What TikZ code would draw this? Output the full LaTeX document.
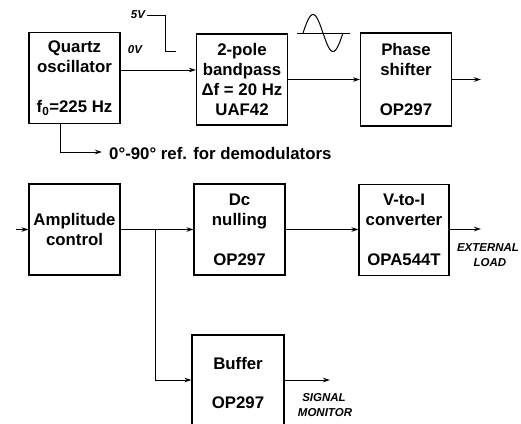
\documentclass[tikz,border=0pt]{standalone}
\usepackage{fontspec}
\setmainfont{Liberation Sans}
\usetikzlibrary{arrows.meta}
\tikzset{
  blk/.style={draw, line width=1.2pt, minimum width=91pt, minimum height=91pt, inner sep=0pt,
    align=center, font=\fontsize{16.8}{20}\selectfont\bfseries},
  wire/.style={line width=1pt},
  arr/.style={wire, -{Stealth[length=7pt,width=4.5pt]}},
  lbl/.style={font=\fontsize{16.8}{20}\selectfont\bfseries, inner sep=0pt},
  small/.style={font=\fontsize{11.5}{13}\selectfont\bfseries\itshape, inner sep=0pt}
}
\begin{document}
\begin{tikzpicture}[x=1pt,y=-1pt]
\useasboundingbox (0,0) rectangle (521,423);
\clip (0,0) rectangle (521,423);
\fill[white] (0,0) rectangle (521,423);
% blocks
\node[blk] (q) at (74.5,78) {Quartz\\oscillator\\[20pt]f\textsubscript{0}=225 Hz};
\node[blk] (bp) at (242,79.5) {2-pole\\bandpass\\Δf = 20 Hz\\UAF42};
\node[blk, minimum height=93pt] (ph) at (406,79.5) {Phase\\shifter\\[20pt]OP297};
\node[blk] (amp) at (74.5,229.5) {Amplitude\\control};
\node[blk] (dc) at (239.5,229.5) {Dc\\nulling\\[20pt]OP297};
\node[blk, minimum width=90pt] (vi) at (404,230) {V-to-I\\converter\\[20pt]OPA544T};
\node[blk, minimum width=92pt, minimum height=170pt] (buf) at (238,420) {};
\node[lbl] (buft) at (238,363) {Buffer};
\node[lbl] (bufo) at (238,403) {OP297};
% helper coordinates
\coordinate (l1) at (0,70);
\coordinate (l2) at (0,380);
\coordinate (phout) at (481,79.5);
\coordinate (ain) at (16,229.5);
\coordinate (br) at (155,229.5);
\coordinate (viout) at (481,229);
\coordinate (bufout) at (330,380);
\coordinate (v5) at (147,15);
\coordinate (v5a) at (165,15);
\coordinate (v0) at (165,51);
\coordinate (v0e) at (176,51);
\coordinate (rf) at (60,152);
\coordinate (rfe) at (102,152);
% connectors
\draw[arr] (q.east |- l1) -- (bp.west |- l1);
\draw[arr] (bp.east) -- (ph.west);
\draw[arr] (ph.east) -- (phout);
\draw[arr] (q.south -| rf) -- (rf) -- (rfe);
\draw[arr] (ain) -- (amp.west);
\draw[arr] (amp.east) -- (dc.west);
\draw[arr] (br) |- (buf.west |- l2);
\draw[arr] (buf.east |- l2) -- (bufout);
\draw[arr] (dc.east) -- (vi.west |- dc.east);
\draw[arr] (vi.east |- viout) -- (viout);
\draw[wire] (v5) -- (v5a) -- (v0) -- (v0e);
% labels
\node[small] (t5v) at (138,15) {5V};
\node[small] (t0v) at (135,50) {0V};
\node[lbl, anchor=west] (ref) at (109,153) {0°-90° ref. for demodulators};
\node[small] (ext) at (488,248) {EXTERNAL};
\node[small] (load) at (490,263) {LOAD};
\node[small] (sig) at (324,398) {SIGNAL};
\node[small] (mon) at (325,413) {MONITOR};
% sine wave
\coordinate (ax1) at (297,33);
\coordinate (ax2) at (350,33);
\draw[wire] (ax1) -- (ax2);
\draw[wire] plot[smooth, domain=0:360, samples=37] ({303+40*\x/360},{33-18.5*sin(\x)});
\end{tikzpicture}
\end{document}
